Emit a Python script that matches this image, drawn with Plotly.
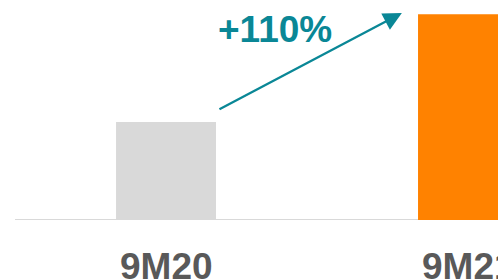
import plotly.graph_objects as go

categories = ["9M20", "9M21"]
values = [1.0, 2.1]
bar_colors = ["#D9D9D9", "#FF8200"]
growth_label = "+110%"

fig = go.Figure()
fig.add_trace(go.Bar(
    x=[0, 1], y=values, width=0.331,
    marker=dict(color=bar_colors, line=dict(width=0)),
    hoverinfo="skip",
))

# baseline
fig.add_shape(type="line", xref="x", yref="y", x0=-0.5, x1=1.6, y0=0, y1=0,
              line=dict(color="#D9D9D9", width=2), layer="below")

# category labels
for i, c in enumerate(categories):
    fig.add_annotation(x=i, xref="x", y=-0.11, yref="paper", yanchor="top",
                       text=f"<b>{c}</b>", showarrow=False,
                       font=dict(family="Liberation Sans, Arial", size=37, color="#595959"))

# growth arrow
fig.add_annotation(x=0.781, y=2.112, ax=0.172, ay=1.122, xref="x", yref="y",
                   axref="x", ayref="y", text="", showarrow=True,
                   arrowhead=2, arrowsize=1.6, arrowwidth=2.3, arrowcolor="#0A8796")
fig.add_annotation(x=0.361, y=1.939, xref="x", yref="y", text=f"<b>{growth_label}</b>",
                   showarrow=False,
                   font=dict(family="Liberation Sans, Arial", size=37, color="#0A8796"))

fig.update_layout(
    width=498, height=279,
    margin=dict(l=0, r=0, t=0, b=59),
    plot_bgcolor="white", paper_bgcolor="white",
    showlegend=False,
    xaxis=dict(range=[-0.5497, 1.0993], visible=False, fixedrange=True),
    yaxis=dict(range=[0, 2.245], visible=False, fixedrange=True),
)

fig.write_html("out.html", config={"displayModeBar": False},
               post_script="document.body.style.margin='0';document.body.style.overflow='hidden';")
